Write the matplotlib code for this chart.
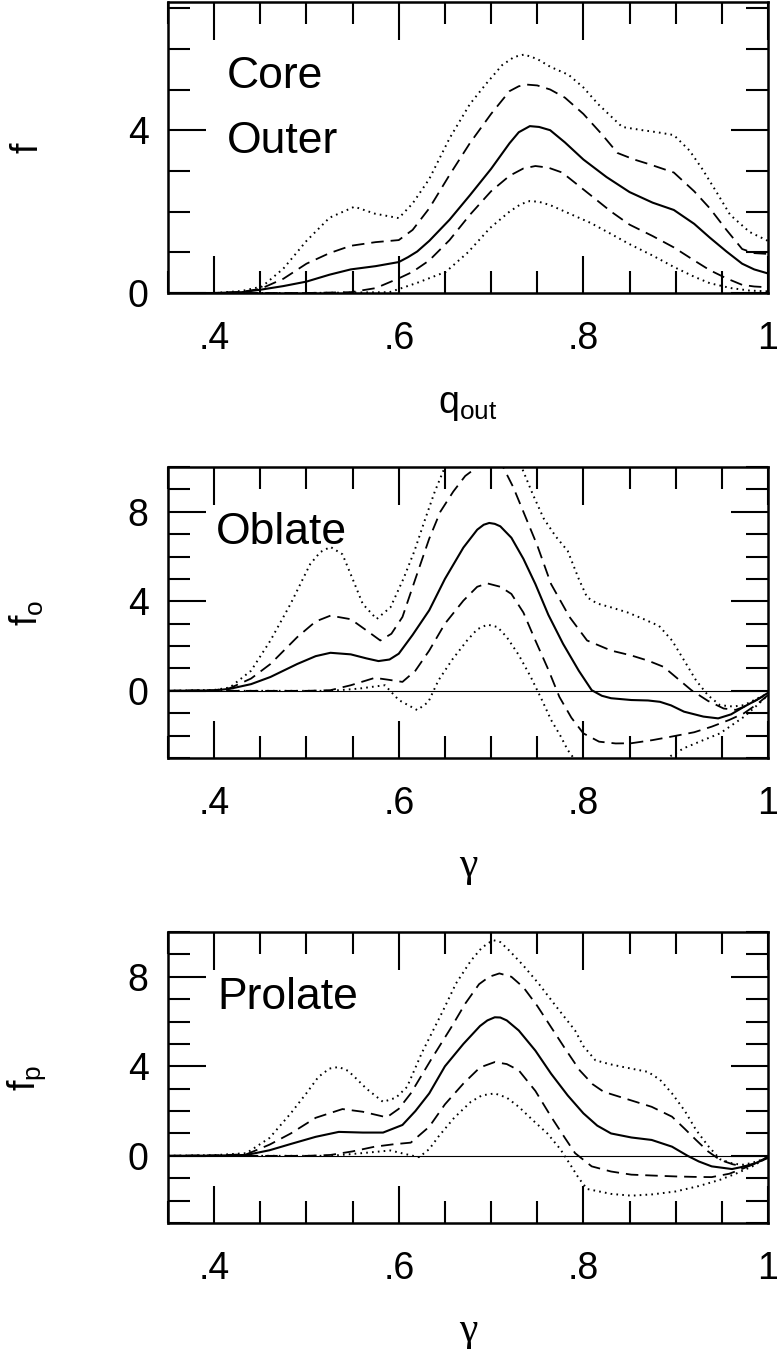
import matplotlib
matplotlib.use("Agg")
import matplotlib.pyplot as plt
from matplotlib.ticker import MultipleLocator, FixedLocator

plt.rcParams['font.family'] = ['Liberation Sans', 'DejaVu Sans']
plt.rcParams['mathtext.fontset'] = 'custom'
plt.rcParams['mathtext.rm'] = 'Liberation Sans'
plt.rcParams['mathtext.it'] = 'Liberation Sans'
plt.rcParams['lines.scale_dashes'] = False

# ---------------- Data ----------------
# Panel 1: q_out
p1_mid_x = [0.35, 0.40, 0.43, 0.45, 0.475, 0.50, 0.525, 0.548, 0.575, 0.60, 0.61, 0.62, 0.633, 0.655, 0.677, 0.70, 0.72, 0.73, 0.742, 0.752, 0.764, 0.78, 0.80, 0.825, 0.85, 0.875, 0.898, 0.92, 0.937, 0.955, 0.972, 0.985, 1.0]
p1_mid_y = [0, 0.0, 0.02, 0.08, 0.17, 0.28, 0.45, 0.58, 0.66, 0.76, 0.88, 1.02, 1.28, 1.8, 2.4, 3.05, 3.68, 3.95, 4.1, 4.08, 4.0, 3.7, 3.28, 2.85, 2.48, 2.22, 2.04, 1.7, 1.36, 1.02, 0.72, 0.58, 0.48]
p1_up1_x = [0.35, 0.40, 0.43, 0.45, 0.475, 0.50, 0.525, 0.548, 0.575, 0.60, 0.615, 0.633, 0.655, 0.677, 0.70, 0.72, 0.73, 0.739, 0.75, 0.764, 0.78, 0.80, 0.82, 0.837, 0.855, 0.872, 0.898, 0.92, 0.937, 0.955, 0.972, 0.985, 1.0]
p1_up1_y = [0, 0.0, 0.03, 0.1, 0.35, 0.72, 0.98, 1.16, 1.25, 1.3, 1.55, 2.08, 2.9, 3.68, 4.4, 4.96, 5.08, 5.12, 5.1, 5.0, 4.8, 4.4, 3.9, 3.44, 3.28, 3.16, 2.96, 2.5, 2.08, 1.55, 1.08, 0.98, 0.96]
p1_up2_x = [0.35, 0.40, 0.43, 0.452, 0.475, 0.50, 0.525, 0.552, 0.574, 0.60, 0.615, 0.633, 0.655, 0.677, 0.695, 0.712, 0.725, 0.736, 0.75, 0.764, 0.784, 0.80, 0.816, 0.842, 0.864, 0.88, 0.898, 0.915, 0.929, 0.945, 0.959, 0.98, 1.0]
p1_up2_y = [0, 0.0, 0.05, 0.16, 0.6, 1.28, 1.85, 2.12, 1.95, 1.84, 2.2, 2.8, 3.8, 4.64, 5.15, 5.6, 5.8, 5.86, 5.75, 5.56, 5.36, 5.05, 4.64, 4.08, 4.0, 3.95, 3.88, 3.5, 3.04, 2.45, 1.92, 1.5, 1.28]
p1_lo1_x = [0.35, 0.45, 0.50, 0.548, 0.575, 0.60, 0.615, 0.633, 0.655, 0.677, 0.70, 0.72, 0.735, 0.748, 0.762, 0.777, 0.808, 0.83, 0.85, 0.875, 0.898, 0.92, 0.937, 0.955, 0.972, 0.985, 1.0]
p1_lo1_y = [0, 0, 0.0, 0.02, 0.12, 0.36, 0.52, 0.8, 1.3, 1.92, 2.5, 2.88, 3.06, 3.12, 3.08, 2.96, 2.4, 2.0, 1.68, 1.4, 1.12, 0.8, 0.56, 0.36, 0.2, 0.16, 0.14]
p1_lo2_x = [0.35, 0.50, 0.59, 0.62, 0.651, 0.675, 0.699, 0.72, 0.732, 0.742, 0.752, 0.764, 0.785, 0.808, 0.83, 0.85, 0.875, 0.898, 0.92, 0.937, 0.96, 0.98, 1.0]
p1_lo2_y = [0, 0, 0.02, 0.25, 0.52, 1.0, 1.6, 2.0, 2.18, 2.26, 2.24, 2.16, 1.95, 1.72, 1.45, 1.2, 0.92, 0.64, 0.4, 0.24, 0.12, 0.06, 0.04]

# Panel 2: oblate
p2_mid_x = [0.35, 0.40, 0.417, 0.44, 0.461, 0.49, 0.51, 0.526, 0.548, 0.565, 0.578, 0.59, 0.60, 0.615, 0.633, 0.65, 0.67, 0.685, 0.692, 0.698, 0.704, 0.71, 0.722, 0.735, 0.748, 0.762, 0.778, 0.795, 0.809, 0.82, 0.83, 0.852, 0.87, 0.883, 0.895, 0.909, 0.93, 0.946, 0.96, 0.974, 0.988, 1.0]
p2_mid_y = [0, 0.02, 0.09, 0.3, 0.62, 1.2, 1.55, 1.7, 1.63, 1.45, 1.33, 1.4, 1.66, 2.5, 3.6, 5.0, 6.4, 7.2, 7.42, 7.5, 7.46, 7.35, 6.84, 5.9, 4.77, 3.4, 2.1, 0.9, 0.03, -0.22, -0.33, -0.41, -0.43, -0.49, -0.65, -0.93, -1.15, -1.23, -1.05, -0.71, -0.4, -0.09]
p2_up1_x = [0.35, 0.40, 0.417, 0.44, 0.461, 0.49, 0.51, 0.526, 0.548, 0.565, 0.58, 0.592, 0.604, 0.618, 0.633, 0.645, 0.659, 0.672, 0.685, 0.70, 0.713, 0.724, 0.735, 0.75, 0.765, 0.785, 0.804, 0.83, 0.852, 0.87, 0.887, 0.902, 0.917, 0.935, 0.952, 0.965, 0.974, 0.988, 1.0]
p2_up1_y = [0, 0.03, 0.12, 0.55, 1.2, 2.4, 3.1, 3.36, 3.2, 2.7, 2.25, 2.55, 3.3, 5.0, 6.8, 8.0, 8.9, 9.6, 10.0, 10.3, 10.0, 9.1, 8.0, 6.5, 4.77, 3.3, 2.25, 1.8, 1.58, 1.35, 1.07, 0.55, 0.03, -0.45, -0.79, -0.85, -0.71, -0.4, -0.12]
p2_up2_x = [0.35, 0.40, 0.417, 0.44, 0.461, 0.483, 0.504, 0.515, 0.526, 0.539, 0.55, 0.561, 0.576, 0.591, 0.605, 0.617, 0.628, 0.639, 0.65, 0.67, 0.69, 0.71, 0.733, 0.745, 0.757, 0.77, 0.783, 0.795, 0.804, 0.815, 0.83, 0.848, 0.865, 0.882, 0.896, 0.91, 0.922, 0.935, 0.948, 0.962, 0.974, 0.988, 1.0]
p2_up2_y = [0, 0.04, 0.15, 0.9, 2.25, 3.9, 5.66, 6.2, 6.43, 6.1, 5.0, 3.88, 3.21, 3.73, 5.0, 6.25, 7.6, 8.9, 10.0, 11.3, 11.8, 11.4, 10.0, 8.8, 7.7, 6.9, 6.25, 5.0, 4.18, 3.9, 3.73, 3.5, 3.21, 2.9, 2.25, 1.3, 0.47, -0.2, -0.64, -0.7, -0.64, -0.35, -0.12]
p2_lo1_x = [0.35, 0.45, 0.50, 0.526, 0.548, 0.574, 0.588, 0.604, 0.618, 0.633, 0.65, 0.67, 0.685, 0.696, 0.71, 0.722, 0.735, 0.748, 0.762, 0.774, 0.787, 0.8, 0.817, 0.835, 0.852, 0.875, 0.896, 0.92, 0.939, 0.958, 0.974, 0.988, 1.0]
p2_lo1_y = [0, 0, 0.0, 0.03, 0.25, 0.58, 0.5, 0.4, 0.9, 1.8, 3.0, 4.03, 4.65, 4.8, 4.65, 4.33, 3.5, 2.25, 0.95, -0.27, -1.2, -1.9, -2.27, -2.35, -2.34, -2.2, -2.04, -1.85, -1.6, -1.3, -1.0, -0.6, -0.19]
p2_lo2_x = [0.35, 0.50, 0.526, 0.557, 0.575, 0.585, 0.6, 0.62, 0.632, 0.643, 0.658, 0.674, 0.685, 0.696, 0.707, 0.717, 0.73, 0.743, 0.755, 0.765, 0.775, 0.783, 0.80, 0.82, 0.84, 0.86, 0.88, 0.895, 0.909, 0.93, 0.948, 0.962, 0.974, 0.988, 1.0]
p2_lo2_y = [0, 0, 0, 0.1, 0.2, 0.25, -0.41, -0.86, -0.5, 0.47, 1.4, 2.25, 2.75, 2.96, 2.85, 2.4, 1.6, 0.62, -0.4, -1.3, -2.0, -2.64, -3.6, -4.2, -4.4, -4.1, -3.4, -2.9, -2.56, -2.2, -1.9, -1.5, -1.16, -0.65, -0.19]

# Panel 3: prolate
p3_mid_x = [0.35, 0.40, 0.435, 0.46, 0.483, 0.51, 0.535, 0.561, 0.583, 0.604, 0.618, 0.633, 0.65, 0.67, 0.688, 0.696, 0.704, 0.71, 0.717, 0.73, 0.748, 0.765, 0.783, 0.8, 0.815, 0.83, 0.852, 0.874, 0.896, 0.913, 0.925, 0.939, 0.961, 0.983, 1.0]
p3_mid_y = [0, 0.01, 0.04, 0.25, 0.53, 0.85, 1.07, 1.04, 1.04, 1.38, 2.0, 2.79, 4.0, 5.0, 5.8, 6.05, 6.19, 6.18, 6.05, 5.6, 4.7, 3.67, 2.7, 1.9, 1.35, 1.0, 0.82, 0.71, 0.41, 0.0, -0.25, -0.47, -0.59, -0.4, -0.06]
p3_up1_x = [0.35, 0.40, 0.435, 0.46, 0.483, 0.51, 0.539, 0.561, 0.587, 0.60, 0.613, 0.635, 0.657, 0.672, 0.687, 0.698, 0.709, 0.722, 0.735, 0.75, 0.765, 0.78, 0.796, 0.81, 0.822, 0.85, 0.874, 0.896, 0.91, 0.922, 0.935, 0.948, 0.962, 0.974, 0.988, 1.0]
p3_up1_y = [0, 0.02, 0.07, 0.5, 1.0, 1.7, 2.09, 1.97, 1.72, 2.1, 2.79, 4.3, 5.75, 6.8, 7.67, 8.0, 8.15, 8.0, 7.53, 6.7, 5.75, 4.8, 3.82, 3.2, 2.86, 2.5, 2.19, 1.75, 1.2, 0.71, 0.2, -0.18, -0.38, -0.47, -0.3, -0.06]
p3_up2_x = [0.35, 0.40, 0.435, 0.46, 0.483, 0.5, 0.513, 0.525, 0.535, 0.545, 0.552, 0.565, 0.583, 0.597, 0.609, 0.625, 0.648, 0.662, 0.678, 0.69, 0.702, 0.71, 0.72, 0.735, 0.752, 0.77, 0.791, 0.80, 0.813, 0.828, 0.843, 0.87, 0.883, 0.896, 0.91, 0.922, 0.935, 0.948, 0.962, 0.974, 0.988, 1.0]
p3_up2_y = [0, 0.03, 0.12, 0.8, 1.9, 2.8, 3.53, 3.9, 3.97, 3.8, 3.53, 3.0, 2.41, 2.6, 3.08, 4.6, 6.49, 7.7, 8.71, 9.3, 9.64, 9.55, 9.16, 8.5, 7.67, 6.7, 5.6, 4.9, 4.27, 4.1, 3.97, 3.75, 3.4, 2.79, 2.0, 1.16, 0.45, -0.15, -0.35, -0.4, -0.25, -0.06]
p3_lo1_x = [0.35, 0.45, 0.50, 0.526, 0.55, 0.574, 0.595, 0.613, 0.633, 0.65, 0.67, 0.688, 0.704, 0.717, 0.73, 0.748, 0.765, 0.78, 0.791, 0.809, 0.83, 0.852, 0.875, 0.9, 0.92, 0.939, 0.958, 0.974, 0.988, 1.0]
p3_lo1_y = [0, 0, 0.0, 0.04, 0.2, 0.41, 0.52, 0.59, 1.3, 2.3, 3.23, 3.95, 4.19, 4.1, 3.82, 2.9, 1.75, 0.8, 0.12, -0.47, -0.7, -0.84, -0.88, -0.92, -0.94, -0.95, -0.8, -0.55, -0.3, -0.1]
p3_lo2_x = [0.35, 0.50, 0.526, 0.56, 0.591, 0.605, 0.622, 0.633, 0.643, 0.66, 0.678, 0.69, 0.704, 0.717, 0.73, 0.745, 0.761, 0.775, 0.787, 0.795, 0.804, 0.83, 0.852, 0.875, 0.9, 0.925, 0.948, 0.965, 0.983, 1.0]
p3_lo2_y = [0, 0, 0, 0.12, 0.24, 0.1, -0.06, 0.3, 0.86, 1.7, 2.41, 2.7, 2.79, 2.6, 2.19, 1.6, 1.0, 0.3, -0.47, -1.0, -1.48, -1.7, -1.78, -1.72, -1.59, -1.35, -1.07, -0.8, -0.47, -0.06]

x_ticks = [0.4, 0.6, 0.8, 1.0]
x_tick_labels = ['.4', '.6', '.8', '1']
panel_ylabels = ['f', r'f$_{\mathrm{o}}$', r'f$_{\mathrm{p}}$']
panel_xlabels = [r'q$_{\mathrm{out}}$', 'γ', 'γ']
panel_ylims = [(0, 7.15), (-3, 10), (-3, 10)]
panel_yticks = [[0, 4], [0, 4, 8], [0, 4, 8]]

panels = [
    [(p1_mid_x, p1_mid_y), (p1_up1_x, p1_up1_y), (p1_lo1_x, p1_lo1_y), (p1_up2_x, p1_up2_y), (p1_lo2_x, p1_lo2_y)],
    [(p2_mid_x, p2_mid_y), (p2_up1_x, p2_up1_y), (p2_lo1_x, p2_lo1_y), (p2_up2_x, p2_up2_y), (p2_lo2_x, p2_lo2_y)],
    [(p3_mid_x, p3_mid_y), (p3_up1_x, p3_up1_y), (p3_lo1_x, p3_lo1_y), (p3_up2_x, p3_up2_y), (p3_lo2_x, p3_lo2_y)],
]

# ---------------- Figure ----------------
W, H = 778, 1349
fig = plt.figure(figsize=(W / 100, H / 100), dpi=100)
ax_left, ax_w, ax_h = 168 / W, 600 / W, 291 / H
bottoms = [1 - 293 / H, 1 - 758 / H, 1 - 1223 / H]

styles = [
    dict(color='black', lw=1.5, ls='-'),
    dict(color='black', lw=1.3, dashes=(9, 5)),
    dict(color='black', lw=1.3, dashes=(9, 5)),
    dict(color='black', lw=1.4, dashes=(1.2, 3.0)),
    dict(color='black', lw=1.4, dashes=(1.2, 3.0)),
]

for i in range(3):
    ax = fig.add_axes([ax_left, bottoms[i], ax_w, ax_h])
    if i > 0:
        ax.axhline(0, color='black', lw=0.8)
    for (xs, ys), st in zip(panels[i], styles):
        ax.plot(xs, ys, **st)
    ax.set_xlim(0.35, 1.0)
    ax.set_ylim(*panel_ylims[i])
    ax.xaxis.set_major_locator(FixedLocator(x_ticks))
    ax.set_xticklabels(x_tick_labels)
    ax.xaxis.set_minor_locator(MultipleLocator(0.05))
    ax.set_yticks(panel_yticks[i])
    ax.yaxis.set_minor_locator(MultipleLocator(1))
    ax.tick_params(which='both', direction='in', top=True, right=True,
                   labelsize=27, width=1.5)
    ax.tick_params(which='major', length=27)
    ax.tick_params(which='minor', length=16)
    ax.tick_params(axis='x', which='major', pad=20)
    ax.tick_params(axis='y', which='major', pad=14)
    for sp in ax.spines.values():
        sp.set_linewidth(1.8)
    ax.set_xlabel(panel_xlabels[i], fontsize=27 if i == 0 else 30,
                  va='center',
                  family=(['Liberation Sans'] if i == 0 else ['Liberation Serif', 'DejaVu Serif']))
    ax.xaxis.set_label_coords(0.5, -0.385 if i == 0 else -0.37)
    ax.set_ylabel(panel_ylabels[i], fontsize=27, va='center', ha='center')
    ax.yaxis.set_label_coords(-0.235, 0.5)
    if i == 0:
        ax.text(0.098, 0.705, 'Core', transform=ax.transAxes, fontsize=32, va='baseline')
        ax.text(0.098, 0.48, 'Outer', transform=ax.transAxes, fontsize=32, va='baseline')
    elif i == 1:
        ax.text(0.08, 0.737, 'Oblate', transform=ax.transAxes, fontsize=32, va='baseline')
    else:
        ax.text(0.083, 0.735, 'Prolate', transform=ax.transAxes, fontsize=32, va='baseline')

fig.savefig('out.png', dpi=100)
